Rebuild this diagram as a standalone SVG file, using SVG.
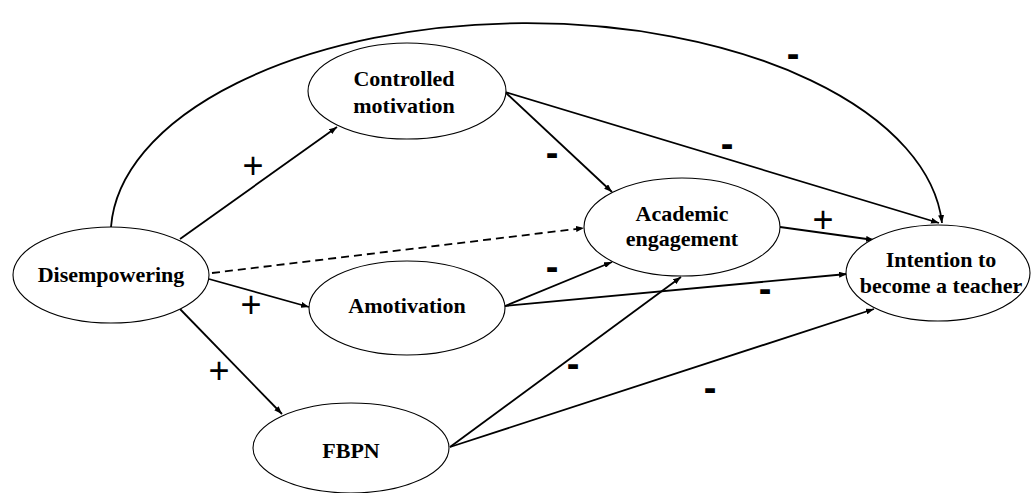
<svg xmlns="http://www.w3.org/2000/svg" width="1032" height="493" viewBox="0 0 1032 493">
<style>
.node ellipse{fill:#fff;stroke:#000;stroke-width:1.1}
.node text{font-family:"Liberation Serif","Times New Roman",serif;font-weight:bold;font-size:22px;text-anchor:middle;fill:#000}
.edge{fill:none;stroke:#000;stroke-width:1.8;marker-end:url(#ah)}
.dash{stroke-dasharray:8,5}
.plus{font-family:"Liberation Sans",Arial,sans-serif;font-size:36px;text-anchor:middle;fill:#000}
.minus{font-family:"Liberation Sans",Arial,sans-serif;font-weight:bold;font-size:38px;text-anchor:middle;fill:#000}
</style>
<defs>
<marker id="ah" markerUnits="userSpaceOnUse" markerWidth="8" markerHeight="6" refX="8" refY="3" orient="auto">
<path d="M0,0 L8,3 L0,6 z" fill="#000"/>
</marker>
</defs>
<rect width="1032" height="493" fill="#fff"/>
<g id="connectors">
<path class="edge" d="M111,227 A416,212 0 0 1 942,223"/>
<path class="edge" d="M180,239 L337,127"/>
<path class="edge" d="M209,279 L309,307"/>
<path class="edge" d="M180,309 L282,414"/>
<path class="edge dash" d="M212,273 L584,228"/>
<path class="edge" d="M505,92 L612,192"/>
<path class="edge" d="M505,92 L939,223"/>
<path class="edge" d="M780,227 L874,240"/>
<path class="edge" d="M505,306 L612,262"/>
<path class="edge" d="M505,306 L847,274"/>
<path class="edge" d="M450,447 L681,277"/>
<path class="edge" d="M450,447 L874,309"/>
</g>
<g id="labels">
<text class="plus" x="253" y="178">+</text>
<text class="plus" x="251" y="317">+</text>
<text class="plus" x="219" y="383">+</text>
<text class="minus" x="552" y="166">-</text>
<text class="minus" x="727" y="157">-</text>
<text class="minus" x="793" y="67">-</text>
<text class="plus" x="823" y="232">+</text>
<text class="minus" x="552" y="280">-</text>
<text class="minus" x="765" y="302">-</text>
<text class="minus" x="573" y="377">-</text>
<text class="minus" x="710" y="401">-</text>
</g>
<g id="node-disempowering" class="node">
<ellipse cx="111" cy="275" rx="98" ry="48"/>
<text x="111" y="282">Disempowering</text>
</g>
<g id="node-controlled" class="node">
<ellipse cx="407" cy="91" rx="99" ry="48"/>
<text x="404" y="86">Controlled</text>
<text x="404" y="113">motivation</text>
</g>
<g id="node-academic" class="node">
<ellipse cx="682" cy="227" rx="98" ry="49"/>
<text x="682" y="221">Academic</text>
<text x="682" y="246">engagement</text>
</g>
<g id="node-intention" class="node">
<ellipse cx="938" cy="273" rx="92" ry="48"/>
<text x="941" y="267">Intention to</text>
<text x="941" y="293">become a teacher</text>
</g>
<g id="node-amotivation" class="node">
<ellipse cx="407" cy="308" rx="98" ry="47"/>
<text x="407" y="313">Amotivation</text>
</g>
<g id="node-fbpn" class="node">
<ellipse cx="351" cy="448" rx="98" ry="45"/>
<text x="351" y="458">FBPN</text>
</g>
</svg>
